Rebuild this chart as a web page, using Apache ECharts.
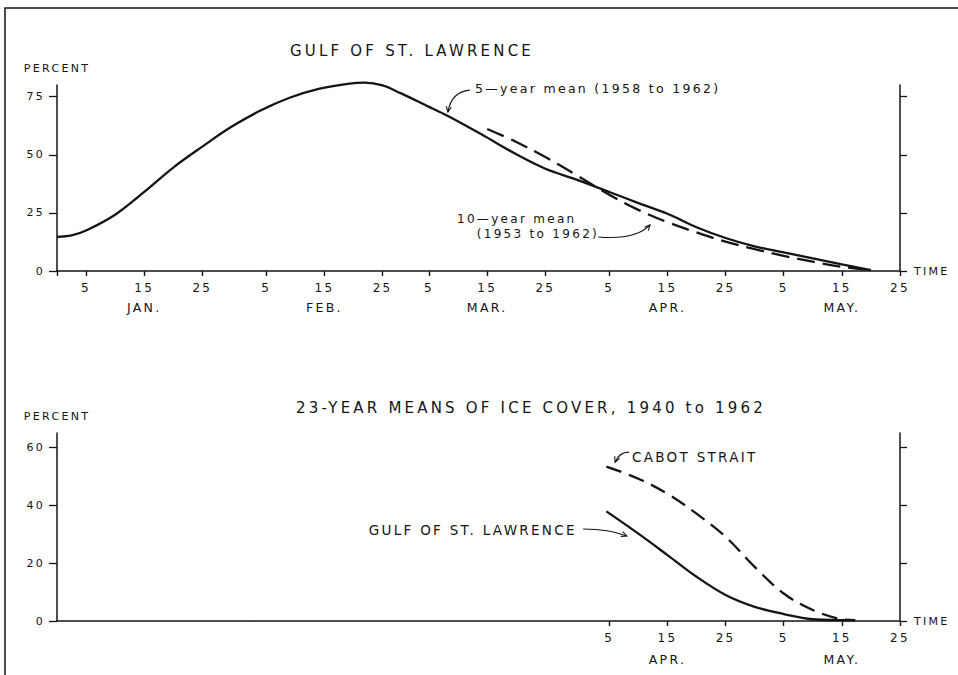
<!DOCTYPE html>
<html>
<head>
<meta charset="utf-8">
<style>
html,body{margin:0;padding:0;background:#ffffff;}
#c{width:958px;height:675px;}
#c text{letter-spacing:2.3px;}
#c text[style*="15px"]{letter-spacing:3.2px;}
</style>
<script src="https://cdn.jsdelivr.net/npm/echarts@6/dist/echarts.min.js"></script>
</head>
<body>
<div id="c"></div>
<script>
// ---------- DATA (day of year, Jan 1 = day 1) ----------
// Upper panel: Gulf of St. Lawrence
const topTickDays   = [0, 5, 15, 25, 36, 46, 56, 64, 74, 84, 95, 105, 115, 125, 135, 145];
const topTickLabels = ['', '5', '15', '25', '5', '15', '25', '5', '15', '25', '5', '15', '25', '5', '15', '25'];
const topMonthDays   = [15, 46, 74, 105, 135];
const topMonthLabels = ['JAN.', 'FEB.', 'MAR.', 'APR.', 'MAY.'];
const topPctTicks = [0, 25, 50, 75];

const fiveYearDays = [0, 2.5, 5, 10, 15, 20, 25, 30, 35, 40, 45, 50, 53, 56, 59, 64, 67, 73, 79, 84, 89, 95, 100, 105, 110, 115, 120, 125, 130, 135, 140];
const fiveYearPct  = [14.7, 15.3, 17.4, 24.2, 34, 44.5, 53.5, 62, 69, 74.5, 78.3, 80.5, 81, 79.8, 76.6, 70.6, 67, 58.8, 50.2, 44, 39.6, 34, 29.2, 24.6, 18.8, 14.2, 10.6, 8, 5.4, 2.8, 0.4];

const tenYearDays = [74, 79, 84, 89, 95, 100, 105, 110, 115, 120, 125, 130, 135, 140];
const tenYearPct  = [61.1, 55.5, 49, 41.8, 32.8, 26.3, 21, 16.6, 12.6, 9.4, 6.5, 4, 1.8, 0.4];

// Lower panel: 23-year means 1940 to 1962
const botTickDays   = [95, 105, 115, 125, 135, 145];
const botTickLabels = ['5', '15', '25', '5', '15', '25'];
const botMonthDays   = [105, 135];
const botMonthLabels = ['APR.', 'MAY.'];
const botPctTicks = [0, 20, 40, 60];

const gulfDays = [94.5, 100, 105, 110, 115, 120, 125, 130, 135, 137.3];
const gulfPct  = [37.9, 30.2, 22.8, 15.3, 9, 4.9, 2.4, 0.6, 0.3, 0.2];

const cabotDays = [94.5, 100, 105, 110, 115, 120, 125, 130, 135, 137.3];
const cabotPct  = [53.4, 49.2, 44, 37.1, 29.1, 18.7, 9.5, 3.8, 0.6, 0.3];

// ---------- STYLE ----------
const FONT = 'DejaVu Sans';
const INK = '#141414';

function pairs(xs, ys) { return xs.map((x, i) => [x, ys[i]]); }
function lookup(keys, vals) { return v => { const i = keys.indexOf(v); return i < 0 ? '' : vals[i]; }; }

function dayAxis(grid, tickDays, tickLabels, withName) {
  return {
    type: 'value', gridIndex: grid, min: 0, max: 145, position: 'bottom',
    axisLine: { show: true, onZero: false, lineStyle: { color: INK, width: 1.5 } },
    axisTick: { show: true, customValues: tickDays, length: 5, inside: false, lineStyle: { color: INK, width: 1.4 } },
    axisLabel: { show: true, customValues: tickDays.filter((d, i) => tickLabels[i] !== ''), formatter: lookup(tickDays, tickLabels),
                 margin: 11, color: INK, fontFamily: FONT, fontSize: 12 },
    splitLine: { show: false },
    name: withName ? 'TIME' : '', nameLocation: 'end', nameGap: 14,
    nameTextStyle: { color: INK, fontFamily: FONT, fontSize: 11, align: 'left', verticalAlign: 'middle' }
  };
}
function monthAxis(grid, days, labels, margin) {
  return {
    type: 'value', gridIndex: grid, min: 0, max: 145, position: 'bottom',
    axisLine: { show: false, onZero: false }, axisTick: { show: false },
    axisLabel: { show: true, customValues: days, formatter: lookup(days, labels), margin: margin,
                 color: INK, fontFamily: FONT, fontSize: 12.5 },
    splitLine: { show: false }
  };
}
function pctAxis(grid, max, ticks, side) {
  const left = side === 'left';
  return {
    type: 'value', gridIndex: grid, min: 0, max: max, position: side,
    axisLine: { show: true, onZero: false, lineStyle: { color: INK, width: 1.5 } },
    axisTick: { show: true, customValues: ticks, length: left ? 8 : 7, lineStyle: { color: INK, width: 1.3 } },
    axisLabel: { show: left, customValues: ticks, margin: 12, color: INK, fontFamily: FONT, fontSize: 11 },
    splitLine: { show: false },
    name: left ? 'PERCENT' : '', nameLocation: 'end', nameGap: 11,
    nameTextStyle: { color: INK, fontFamily: FONT, fontSize: 11, align: 'center' }
  };
}
function curve(xi, yi, xs, ys, dashed, dash) {
  return {
    type: 'line', xAxisIndex: xi, yAxisIndex: yi, data: pairs(xs, ys),
    smooth: 0.35, showSymbol: false, symbol: 'none', clip: false,
    lineStyle: { color: INK, width: 2.3, type: dashed ? dash : 'solid', cap: 'butt' },
    emphasis: { disabled: true }, silent: true
  };
}

const chart = echarts.init(document.getElementById('c'), null, { renderer: 'svg', width: 958, height: 675 });
chart.setOption({
  animation: false,
  backgroundColor: '#ffffff',
  title: [
    { text: 'GULF OF ST. LAWRENCE', left: 407, top: 38, textAlign: 'center',
      textStyle: { color: INK, fontFamily: FONT, fontSize: 15, fontWeight: 'normal' } },
    { text: '23-YEAR MEANS OF ICE COVER, 1940 to 1962', left: 526, top: 395, textAlign: 'center',
      textStyle: { color: INK, fontFamily: FONT, fontSize: 15, fontWeight: 'normal' } }
  ],
  grid: [
    { left: 57, right: 58, top: 85, height: 186 },
    { left: 57, right: 58, top: 433, height: 188 }
  ],
  xAxis: [
    dayAxis(0, topTickDays, topTickLabels, true),
    monthAxis(0, topMonthDays, topMonthLabels, 30),
    dayAxis(1, botTickDays, botTickLabels, true),
    monthAxis(1, botMonthDays, botMonthLabels, 32)
  ],
  yAxis: [
    pctAxis(0, 80, topPctTicks, 'left'),
    pctAxis(0, 80, topPctTicks, 'right'),
    pctAxis(1, 65, botPctTicks, 'left'),
    pctAxis(1, 65, botPctTicks, 'right')
  ],
  series: [
    curve(0, 0, fiveYearDays, fiveYearPct, false),
    curve(0, 0, tenYearDays, tenYearPct, true, [18, 8]),
    curve(2, 2, gulfDays, gulfPct, false),
    curve(2, 2, cabotDays, cabotPct, true, [16, 8])
  ]
});

// ---------- ANNOTATIONS (anchored in data units) ----------
const notes = [
  { s: 0, at: [71.9, 78.7], text: '5—year mean (1958 to 1962)', align: 'left', size: 12.5 },
  { s: 0, at: [68.8, 22.4], text: '10—year mean', align: 'left', size: 12 },
  { s: 0, at: [72.2, 15.9], text: '(1953 to 1962)', align: 'left', size: 12 },
  { s: 2, at: [98.9, 56.7], text: 'CABOT STRAIT', align: 'left', size: 13.5 },
  { s: 2, at: [89.4, 31.5], text: 'GULF OF ST. LAWRENCE', align: 'right', size: 13.5 }
];
const arrows = [
  { s: 0, from: [71.0, 77.8], ctrl: [67.8, 77.0], to: [67.25, 68.4] },
  { s: 0, from: [93.1, 14.6], ctrl: [99.6, 13.3], to: [102.0, 19.8] },
  { s: 2, from: [98.4, 58.4], ctrl: [96.7, 58.4], to: [96.0, 54.9] },
  { s: 2, from: [90.5, 31.8], ctrl: [95.0, 31.8], to: [98.0, 29.4] }
];
const px = (s, p) => chart.convertToPixel({ seriesIndex: s }, p);
const graphics = [
  { type: 'rect', silent: true, shape: { x: 5, y: 8, width: 1000, height: 1000 },
    style: { fill: 'none', stroke: INK, lineWidth: 1.5 } }
];
notes.forEach(n => {
  const p = px(n.s, n.at);
  graphics.push({ type: 'text', silent: true, x: p[0], y: p[1],
    style: { text: n.text, fill: INK, font: n.size + 'px ' + FONT, align: n.align, verticalAlign: 'middle' } });
});
arrows.forEach(a => {
  const f = px(a.s, a.from), c = px(a.s, a.ctrl), t = px(a.s, a.to);
  graphics.push({ type: 'bezierCurve', silent: true,
    shape: { x1: f[0], y1: f[1], cpx1: c[0], cpy1: c[1], x2: t[0], y2: t[1] },
    style: { stroke: INK, lineWidth: 1.1, fill: 'none' } });
  const ang = Math.atan2(t[1] - c[1], t[0] - c[0]);
  const L = 6, spread = 0.45;
  const a1 = [t[0] - L * Math.cos(ang - spread), t[1] - L * Math.sin(ang - spread)];
  const a2 = [t[0] - L * Math.cos(ang + spread), t[1] - L * Math.sin(ang + spread)];
  graphics.push({ type: 'polyline', silent: true, shape: { points: [a1, t, a2] },
    style: { stroke: INK, lineWidth: 1.1, fill: 'none' } });
});
chart.setOption({ graphic: graphics });
</script>
</body>
</html>
